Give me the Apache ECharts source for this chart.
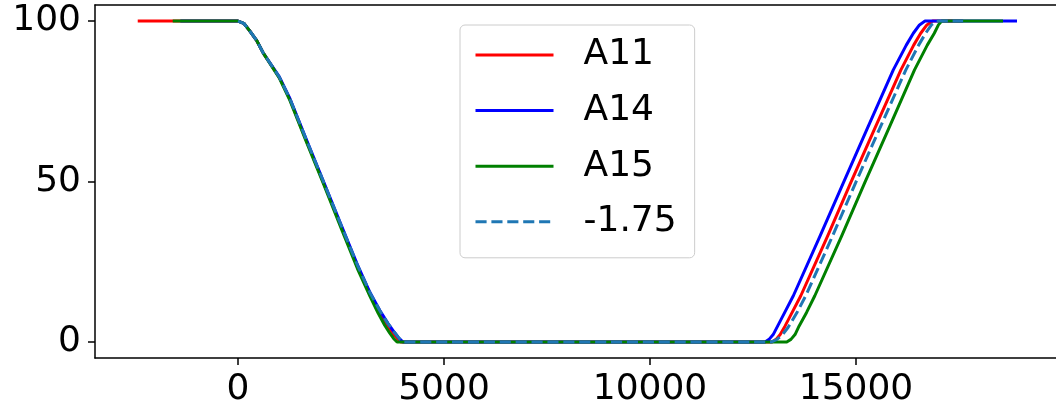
<!DOCTYPE html>
<html>
<head>
<meta charset="utf-8">
<script src="https://cdn.jsdelivr.net/npm/echarts@6/dist/echarts.min.js"></script>
<style>
  html, body { margin: 0; padding: 0; background: #fff; }
  #chart { width: 1056px; height: 409px; }
</style>
</head>
<body>
<div id="chart"></div>
<script>
// 各曲线的数据
const a11X = [-2434, 0, 140, 280, 450, 614, 1000, 1262, 1650, 2063, 2517, 2900, 3204, 3420, 3600, 3740, 3860, 3950, 12960, 13060, 13160, 13280, 13450, 13660, 14310, 14870, 15440, 16090, 16400, 16570, 16720, 16860, 17600]
const a11Y = [100, 100, 99.3, 97, 94, 90, 82.5, 75.5, 63, 50, 35.6, 23.6, 15, 9.6, 5.6, 3, 1.1, 0, 0, 0.8, 2.3, 5, 9.2, 14.4, 33, 49.6, 66.1, 84.8, 92.5, 96.2, 98.8, 100, 100]

const a14X = [-1400, 0, 140, 280, 450, 614, 1000, 1262, 1650, 2063, 2517, 2900, 3204, 3440, 3640, 3790, 3910, 4000, 12790, 12890, 12990, 13100, 13270, 13479, 14126, 14692, 15259, 15905, 16220, 16391, 16540, 16675, 18908]
const a14Y = [100, 100, 99.3, 97, 94, 90, 82.7, 75.8, 63.4, 50.4, 36, 24, 15.4, 9.9, 5.8, 3.1, 1.1, 0, 0, 0.8, 2.3, 5, 9.2, 14.4, 33, 49.6, 66.1, 84.8, 92.5, 96.2, 98.8, 100, 100]

const a15X = [-1585, 0, 140, 280, 450, 614, 1000, 1262, 1650, 2063, 2517, 2900, 3204, 3400, 3560, 3680, 3780, 3860, 13318, 13420, 13520, 13620, 13800, 14000, 14650, 15210, 15780, 16420, 16730, 16900, 17000, 17080, 18568]
const a15Y = [100, 100, 99.3, 97, 94, 90, 82.3, 75.2, 62.6, 49.6, 35, 22.8, 14.2, 9, 5.2, 2.8, 1, 0, 0, 0.8, 2.3, 5, 9.2, 14.4, 33, 49.6, 66.1, 84.8, 92.5, 96.2, 98.8, 100, 100]

const refX = [0, 140, 280, 450, 614, 1000, 1262, 1650, 2063, 2517, 2900, 3204, 3440, 3640, 3790, 3910, 4000, 12950, 13080, 13210, 13350, 13560, 13780, 14430, 14990, 15560, 16210, 16520, 16690, 16830, 16950, 17600]
const refY = [100, 99.3, 97, 94, 90, 82.6, 75.7, 63.3, 50.3, 35.9, 23.9, 15.3, 9.8, 5.7, 3.1, 1.1, 0, 0, 0.8, 2.2, 4.5, 9, 14.4, 33, 49.6, 66.1, 84.8, 92.5, 96.2, 98.8, 100, 100]

const xTicks = [0, 5000, 10000, 15000]
const yTicks = [0, 50, 100]

const pairs = (xs, ys) => xs.map((x, i) => [x, ys[i]])

const font = 'DejaVu Sans'
const chart = echarts.init(document.getElementById('chart'))

const lineSeries = (name, xs, ys, color, type) => ({
  name: name,
  type: 'line',
  data: pairs(xs, ys),
  symbol: 'none',
  smooth: false,
  lineStyle: { color: color, width: 3, type: type || 'solid', cap: 'butt', join: 'round' },
  itemStyle: { color: color }
})

const option = {
  animation: false,
  grid: { left: 95, right: 0, top: 5, bottom: 51, outerBoundsMode: 'none' },
  legend: {
    orient: 'vertical',
    left: 460,
    top: 25,
    padding: [12, 18, 18, 14],
    itemWidth: 78,
    itemHeight: 14,
    itemGap: 19.6,
    backgroundColor: 'rgba(255,255,255,0.8)',
    borderColor: '#cccccc',
    borderWidth: 1,
    borderRadius: 5,
    itemStyle: { opacity: 0 },
    lineStyle: { width: 3 },
    textStyle: { fontFamily: font, fontSize: 36, color: '#000', lineHeight: 36, padding: [0, 0, 0, 25] },
    data: ['A11', 'A14', 'A15', '-1.75']
  },
  xAxis: [
    {
      type: 'value',
      min: -3471,
      max: 19854,
      splitLine: { show: false },
      axisLine: { show: true, onZero: false, lineStyle: { color: '#000', width: 1.5 } },
      axisTick: { show: true, length: 7, lineStyle: { color: '#000', width: 1.5 }, customValues: xTicks },
      axisLabel: {
        margin: 14,
        fontFamily: font,
        fontSize: 36,
        color: '#000',
        lineHeight: 36,
        customValues: xTicks,
        formatter: v => String(v)
      }
    },
    {
      type: 'value',
      position: 'top',
      min: -3471,
      max: 19854,
      splitLine: { show: false },
      axisLine: { show: true, onZero: false, lineStyle: { color: '#000', width: 1.5 } },
      axisTick: { show: false },
      axisLabel: { show: false }
    }
  ],
  yAxis: {
    type: 'value',
    min: -5,
    max: 105,
    splitLine: { show: false },
    axisLine: { show: true, onZero: false, lineStyle: { color: '#000', width: 1.5 } },
    axisTick: { show: true, length: 7, lineStyle: { color: '#000', width: 1.5 }, customValues: yTicks },
    axisLabel: {
      margin: 14,
      fontFamily: font,
      fontSize: 36,
      color: '#000',
      customValues: yTicks,
      formatter: v => String(v)
    }
  },
  series: [
    lineSeries('A11', a11X, a11Y, '#ff0000'),
    lineSeries('A14', a14X, a14Y, '#0000ff'),
    lineSeries('A15', a15X, a15Y, '#008000'),
    lineSeries('-1.75', refX, refY, '#1f77b4', [11.1, 4.8])
  ]
}

chart.setOption(option)
</script>
</body>
</html>
